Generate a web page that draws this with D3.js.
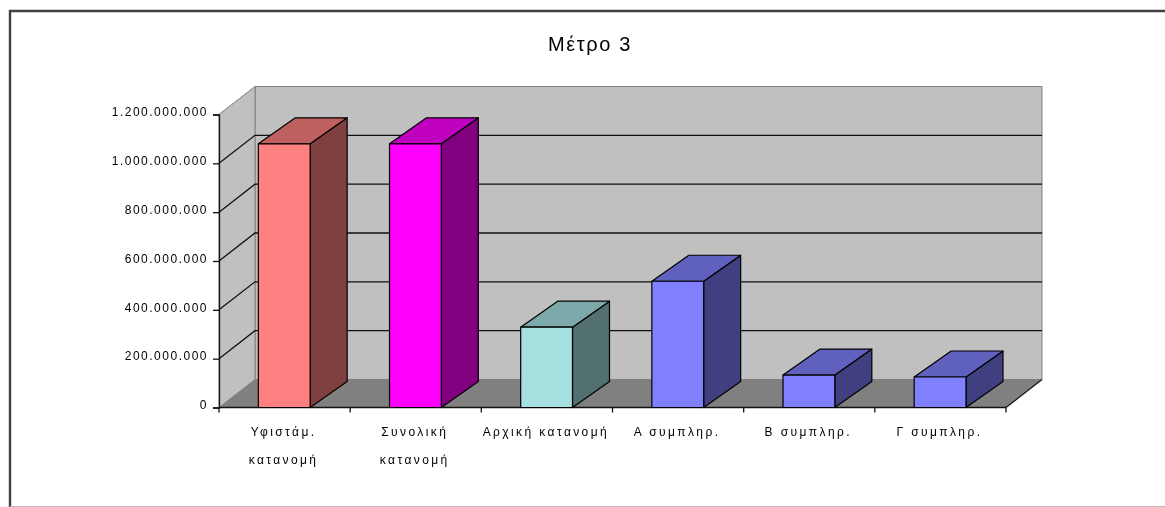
<!DOCTYPE html>
<html>
<head>
<meta charset="utf-8">
<script src="https://cdn.jsdelivr.net/npm/d3@7"></script>
<style>
html, body { margin: 0; padding: 0; background: #fff; }
svg { display: block; }
text { font-family: "Liberation Sans", Arial, sans-serif; fill: #000; }
</style>
</head>
<body>
<svg id="chart" width="1165" height="507">
    <defs><filter id="soft"><feGaussianBlur stdDeviation="0.35"></feGaussianBlur></filter></defs>
</svg>
<script>
const categories = [
    ['Υφιστάμ.', 'κατανομή'],
    ['Συνολική', 'κατανομή'],
    ['Αρχική κατανομή'],
    ['Α συμπληρ.'],
    ['Β συμπληρ.'],
    ['Γ συμπληρ.'],
];
const values = [1080000000, 1080000000, 329000000, 517000000, 133000000, 125000000];
const frontColors = ['#ff8080', '#ff00ff', '#a6e0e0', '#8080ff', '#8080ff', '#8080ff'];
const topColors = ['#bf6060', '#bf00bf', '#7caaaa', '#6060bf', '#6060bf', '#6060bf'];
const sideColors = ['#804040', '#800080', '#537070', '#404080', '#404080', '#404080'];
const yTicks = [0, 200000000, 400000000, 600000000, 800000000, 1000000000, 1200000000];

const depth = { x: 36, y: 28 };
const barDepth = { x: 37, y: 26 };

const svg = d3.select('#chart');

const x = d3.scaleBand()
    .domain(d3.range(categories.length))
    .range([219, 1006]);
const y = d3.scaleLinear()
    .domain([0, 1200000000])
    .range([407.5, 114.5]);

const barInset = x.bandwidth() * 0.3;
const barWidth = x.bandwidth() * 0.395;
const x0 = x.range()[0], x1 = x.range()[1];
const line = d3.line();
const fmt = d => d3.format(',')(d).replace(/,/g, '.');

// outer frame, only left/top are dark
svg.append('path').attr('d', line([[10, 507], [10, 11], [1165, 11]]))
    .attr('fill', 'none').attr('stroke', '#404040').attr('stroke-width', 2.4);
svg.append('path').attr('d', line([[10, 506.5], [1165, 506.5]]))
    .attr('stroke', '#b8b8b8').attr('stroke-width', 1);

svg.append('text')
    .attr('x', 590).attr('y', 51)
    .attr('text-anchor', 'middle')
    .attr('filter', 'url(#soft)')
    .style('font-size', '20px')
    .style('letter-spacing', '1.6px')
    .text('Μέτρο 3');

// walls and floor
const bx0 = x0 + depth.x, bx1 = x1 + depth.x;
svg.append('path')
    .attr('d', line([[bx0, y(1200000000) - depth.y], [bx1, y(1200000000) - depth.y], [bx1, y(0) - depth.y], [bx0, y(0) - depth.y]]) + 'Z')
    .attr('fill', '#c0c0c0').attr('stroke', '#808080').attr('stroke-width', 1);
svg.append('path')
    .attr('d', line([[x0, y(1200000000)], [bx0, y(1200000000) - depth.y], [bx0, y(0) - depth.y], [x0, y(0)]]) + 'Z')
    .attr('fill', '#c0c0c0').attr('stroke', '#808080').attr('stroke-width', 1);
svg.append('path')
    .attr('d', line([[x0, y(0)], [bx0, y(0) - depth.y], [bx1, y(0) - depth.y], [x1, y(0)]]) + 'Z')
    .attr('fill', '#808080');

// grid lines on both walls
const gridTicks = yTicks.slice(1, -1);
svg.append('g').selectAll('path')
    .data(gridTicks)
    .enter().append('path')
    .attr('d', d => line([[x0, y(d)], [bx0, y(d) - depth.y], [bx1, y(d) - depth.y]]))
    .attr('fill', 'none')
    .attr('stroke', '#111')
    .attr('stroke-width', 1.3);
svg.append('path')
    .attr('d', line([[x1, y(0)], [bx1, y(0) - depth.y]]))
    .attr('stroke', '#111').attr('stroke-width', 1.2);
svg.append('path')
    .attr('d', line([[x0, y(1200000000)], [bx0, y(1200000000) - depth.y]]))
    .attr('stroke', '#999').attr('stroke-width', 1);

// axes
const yAxis = d3.axisLeft(y).tickValues(yTicks).tickFormat(fmt).tickSize(6).tickPadding(5);
const yG = svg.append('g').attr('transform', `translate(${x0},0)`).call(yAxis);
yG.selectAll('path, line').attr('stroke', '#111').attr('stroke-width', 1.3);
yG.selectAll('text')
    .style('font-size', '12px')
    .style('font-family', '"Liberation Sans", Arial, sans-serif')
    .attr('filter', 'url(#soft)')
    .attr('dy', '0.1em')
    .style('letter-spacing', '1.5px');

const xEdges = d3.range(categories.length + 1).map(i => x0 + i * x.bandwidth());
const xAxisLine = svg.append('g');
xAxisLine.append('path').attr('d', line([[x0, y(0)], [x1, y(0)]]))
    .attr('stroke', '#111').attr('stroke-width', 1.3);
xAxisLine.selectAll('line').data(xEdges).enter().append('line')
    .attr('x1', d => d).attr('x2', d => d)
    .attr('y1', y(0)).attr('y2', y(0) + 5)
    .attr('stroke', '#111').attr('stroke-width', 1.3);

// bars
const bars = svg.append('g').selectAll('g')
    .data(values)
    .enter().append('g')
    .attr('stroke', '#000').attr('stroke-width', 1.2).attr('stroke-linejoin', 'round');
bars.append('path')
    .attr('fill', (d, i) => sideColors[i])
    .attr('d', (d, i) => {
        const r = x(i) + barInset + barWidth;
        return line([[r, y(d)], [r + barDepth.x, y(d) - barDepth.y], [r + barDepth.x, y(0) - barDepth.y], [r, y(0)]]) + 'Z';
    });
bars.append('path')
    .attr('fill', (d, i) => topColors[i])
    .attr('d', (d, i) => {
        const l = x(i) + barInset, r = l + barWidth;
        return line([[l, y(d)], [l + barDepth.x, y(d) - barDepth.y], [r + barDepth.x, y(d) - barDepth.y], [r, y(d)]]) + 'Z';
    });
bars.append('rect')
    .attr('fill', (d, i) => frontColors[i])
    .attr('x', (d, i) => x(i) + barInset)
    .attr('y', d => y(d))
    .attr('width', barWidth)
    .attr('height', d => y(0) - y(d));

// category labels
const labels = svg.append('g').selectAll('text')
    .data(categories)
    .enter().append('text')
    .attr('text-anchor', 'middle')
    .attr('y', 436)
    .attr('filter', 'url(#soft)')
    .style('font-size', '12px')
    .style('letter-spacing', '2.4px');
labels.selectAll('tspan')
    .data((d, i) => d.map(t => ({ t, i })))
    .enter().append('tspan')
    .attr('x', d => x(d.i) + x.bandwidth() / 2 - 1)
    .attr('dy', (d, j) => j ? 28 : 0)
    .text(d => d.t);
</script>
</body>
</html>
